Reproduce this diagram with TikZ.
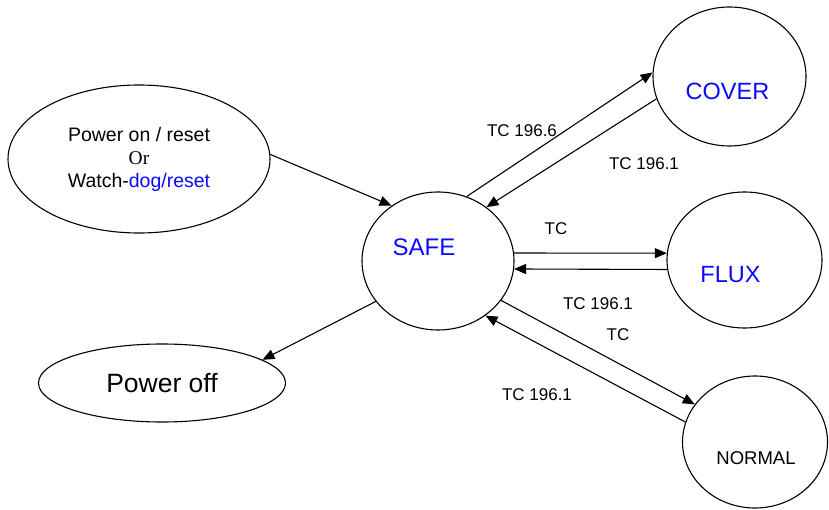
\documentclass[tikz,border=0pt]{standalone}
\usepackage{fontspec}
\setmainfont{Liberation Sans}
\newfontfamily\orfont{Liberation Serif}
\usetikzlibrary{shapes.geometric,positioning,arrows.meta}
\definecolor{modeblue}{RGB}{10,10,255}

\begin{document}
\begin{tikzpicture}[x=1pt,y=-1pt,on grid,line width=1.1pt,
  mode/.style={draw,ellipse,inner sep=0pt},
  tr/.style={-{Triangle[length=12pt,width=10pt]}},
  tc/.style={font=\fontsize{17}{20}\selectfont}]
\useasboundingbox (0,0) rectangle (829,510);
\node[mode,minimum width=152pt,minimum height=138pt] (safe) at (438,261) {};
\node[mode,minimum width=153pt,minimum height=139pt] (cover) [above right=184.5pt and 291.5pt of safe] {};
\node[mode,minimum width=155pt,minimum height=136pt] (flux) [above right=1pt and 306.5pt of safe] {};
\node[mode,minimum width=145pt,minimum height=132pt] (normal) [below right=181pt and 317pt of safe] {};
\node[mode,minimum width=262pt,minimum height=148pt,align=center,
  font=\fontsize{19.5}{23}\selectfont] (pon) [above left=102pt and 299pt of safe]
  {Power on / reset\\{\orfont Or}\\Watch-\textcolor{modeblue}{dog/reset}};
\node[mode,minimum width=247pt,minimum height=78pt,
  font=\fontsize{26.5}{30}\selectfont] (poff) [below left=122pt and 276pt of safe] {Power off};

\node[font=\fontsize{24}{28}\selectfont,text=modeblue] (safetxt) at ([shift={(-14,-14)}]safe) {SAFE};
\node[font=\fontsize{23.5}{28}\selectfont,text=modeblue] (covertxt) at ([shift={(-2,15)}]cover) {COVER};
\node[font=\fontsize{23.5}{28}\selectfont,text=modeblue] (fluxtxt) at ([shift={(-14,15)}]flux) {FLUX};
\node[font=\fontsize{18.5}{22}\selectfont] (normaltxt) at ([shift={(1,16)}]normal) {NORMAL};

\draw[tr] (pon.2) -- (safe.130);
\draw[tr] (safe.66) -- (cover.177);
\draw[tr] (cover.197) -- (safe.48);
\draw[tr] (safe.6) -- (flux.175);
\draw[tr] (flux.187) -- (safe.-6);
\draw[tr] (safe.-32) -- (normal.148);
\draw[tr] (normal.164) -- (safe.-49);
\draw[tr] (safe.213) -- (poff.13);

\node[tc] (tc1) at (522,131) {TC 196.6};
\node[tc] (tc2) at (644,164) {TC 196.1};
\node[tc] (tc3) at (556,229) {TC};
\node[tc] (tc4) at (598,304) {TC 196.1};
\node[tc] (tc5) at (618,335) {TC};
\node[tc] (tc6) at (537,395) {TC 196.1};
\end{tikzpicture}
\end{document}
